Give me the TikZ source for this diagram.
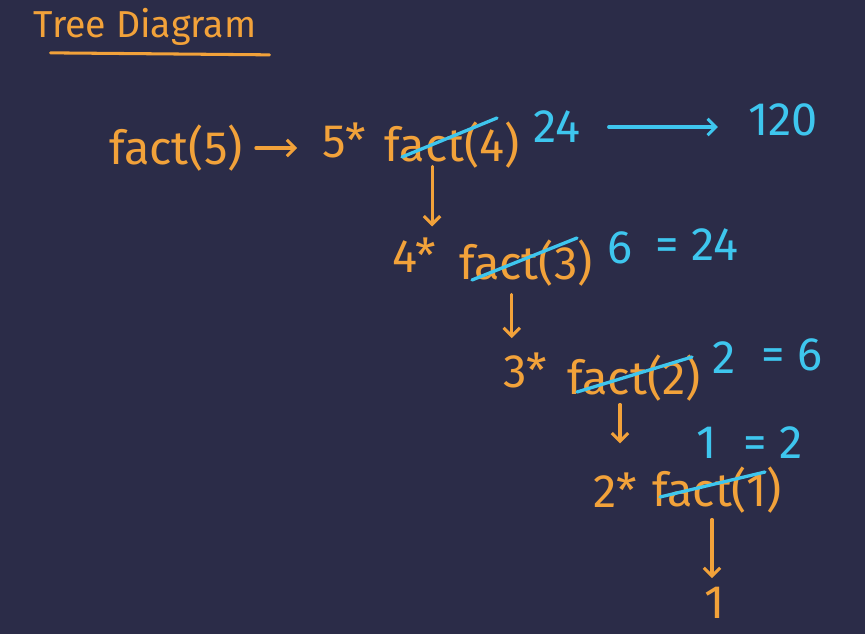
\documentclass[tikz,border=0pt]{standalone}
\usepackage{fontspec}
\setmainfont{Fira Sans}
\usetikzlibrary{arrows.meta, calc}
\definecolor{board}{HTML}{2B2C48}
\definecolor{chalk}{HTML}{F2A23A}
\definecolor{ink}{HTML}{3EC6EE}
\tikzset{
  call/.style={text=chalk, font=\fontsize{40}{44}\selectfont, inner sep=0pt},
  result/.style={text=ink, font=\fontsize{40}{44}\selectfont, inner sep=0pt},
  callarrow/.style={draw=chalk, line width=2.6pt, line cap=round,
    -{Straight Barb[length=7pt, width=14pt, line width=2.6pt]}},
  retarrow/.style={draw=ink, line width=2.6pt, line cap=round,
    -{Straight Barb[length=7pt, width=14pt, line width=2.6pt]}},
  strike/.style={draw=ink, line width=2.8pt, line cap=round}
}

\begin{document}
\begin{tikzpicture}[x=0.03cm, y=-0.03cm]

%% Board
\fill[board] (0,0) rectangle (865,634);
\useasboundingbox (0,0) rectangle (865,634);

%% Title
\node[call, font=\fontsize{32}{36}\selectfont] (title) at (145,27) {Tree Diagram};
\draw[chalk, line width=2.6pt, line cap=round]
  ($(title.south west)+(17,7)$) -- ($(title.south east)+(13,9)$);

%% Calls
\node[call]   (f5)   at (176,148) {fact(5)};
\node[call]   (m5)   at (344,140) {5*};
\node[call]   (f4)   at (452,145) {fact(4)};
\node[call]   (m4)   at (414,255) {4*};
\node[call]   (f3)   at (526,263) {fact(3)};
\node[call]   (m3)   at (525,370) {3*};
\node[call]   (f2)   at (634,378) {fact(2)};
\node[call]   (m2)   at (615,490) {2*};
\node[call]   (f1)   at (717,490) {fact(1)};
\node[call]   (base) at (715,603) {1};

%% Returned values
\node[result] (r24)  at (557,127) {24};
\node[result] (r120) at (783,120) {120};
\node[result] (r6)   at (620,248) {6};
\node[result] (e24)  at (697,245) {= 24};
\node[result] (r2)   at (724,358) {2};
\node[result] (e6)   at (792,355) {= 6};
\node[result] (r1)   at (707,443) {1};
\node[result] (e2)   at (773,443) {= 2};

%% Strike-outs
\draw[strike] ($(f4.center)+(-50,12)$) -- ($(f4.center)+(45,-27)$);
\draw[strike] ($(f3.center)+(-54,17)$) -- ($(f3.center)+(51,-25)$);
\draw[strike] ($(f2.center)+(-57,14)$) -- ($(f2.center)+(58,-21)$);
\draw[strike] ($(f1.center)+(-57,7)$)  -- ($(f1.center)+(48,-18)$);

%% Arrows
\draw[callarrow] ($(f5.east)+(13,0)$) -- ($(f5.east -| m5.west)+(-25,0)$);
\draw[retarrow] ($(r24.east)+(28,0)$) -- ($(r24.east -| r120.west)+(-30,0)$);
\draw[callarrow] ($(m4.north east |- f4.south)+(-4,-2)$) -- ($(m4.north east)+(-4,-11)$);
\draw[callarrow] ($(m3.north west |- f3.south)+(9,8)$) -- ($(m3.north west)+(9,-14)$);
\draw[callarrow] ($(m2.north |- f2.south)+(5,3)$) -- ($(m2.north)+(5,-29)$);
\draw[callarrow] ($(base.north |- f1.south)+(-3,6)$) -- ($(base.north)+(-3,-9)$);

\end{tikzpicture}
\end{document}
